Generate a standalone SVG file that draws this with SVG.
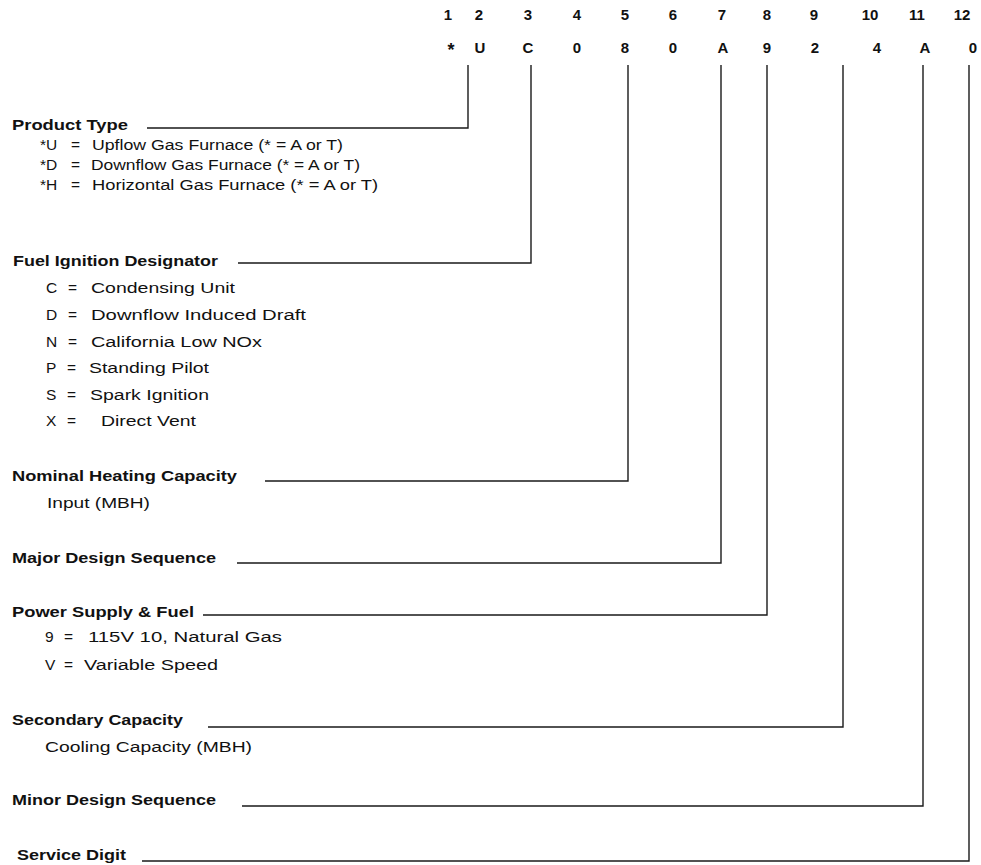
<svg xmlns="http://www.w3.org/2000/svg" width="981" height="865" viewBox="0 0 981 865">
<style>
text{font-family:"Liberation Sans",Arial,Helvetica,sans-serif;fill:#111}
.h{font-size:15px;font-weight:bold;text-anchor:middle}
.l{font-size:15.5px;font-weight:bold}
.t{font-size:15.5px}
.conn{fill:none;stroke:#1a1a1a;stroke-width:1.4}
</style>
<rect width="981" height="865" fill="#fff"/>
<g id="header">
<text class="h" x="448" y="20">1</text>
<text class="h" x="479" y="20">2</text>
<text class="h" x="528" y="20">3</text>
<text class="h" x="577" y="20">4</text>
<text class="h" x="625" y="20">5</text>
<text class="h" x="673" y="20">6</text>
<text class="h" x="722" y="20">7</text>
<text class="h" x="767" y="20">8</text>
<text class="h" x="814" y="20">9</text>
<text class="h" x="870" y="20">10</text>
<text class="h" x="917" y="20">11</text>
<text class="h" x="962" y="20">12</text>
<text class="h" x="451" y="56" style="font-size:18px">*</text>
<text class="h" x="480" y="53">U</text>
<text class="h" x="528" y="53">C</text>
<text class="h" x="577" y="53">0</text>
<text class="h" x="625" y="53">8</text>
<text class="h" x="673" y="53">0</text>
<text class="h" x="723" y="53">A</text>
<text class="h" x="767" y="53">9</text>
<text class="h" x="815" y="53">2</text>
<text class="h" x="877" y="53">4</text>
<text class="h" x="925" y="53">A</text>
<text class="h" x="973" y="53">0</text>
</g>
<g id="connectors">
<polyline class="conn" points="147,128 468,128 468,65"/>
<polyline class="conn" points="238,263 531,263 531,65"/>
<polyline class="conn" points="265,481 628,481 628,65"/>
<polyline class="conn" points="237,563 721,563 721,65"/>
<polyline class="conn" points="203,615 767,615 767,65"/>
<polyline class="conn" points="208,727 843,727 843,65"/>
<polyline class="conn" points="242,806 923,806 923,65"/>
<polyline class="conn" points="142,861 969,861 969,65"/>
</g>
<g id="product-type">
<text class="l" x="12" y="130" textLength="116" lengthAdjust="spacingAndGlyphs">Product Type</text>
<text class="t" x="40" y="150">*U</text><text class="t" x="71" y="150">=</text>
<text class="t" x="92" y="150" textLength="251" lengthAdjust="spacingAndGlyphs">Upflow Gas Furnace (* = A or T)</text>
<text class="t" x="40" y="170">*D</text><text class="t" x="71" y="170">=</text>
<text class="t" x="91" y="170" textLength="269" lengthAdjust="spacingAndGlyphs">Downflow Gas Furnace (* = A or T)</text>
<text class="t" x="40" y="190">*H</text><text class="t" x="71" y="190">=</text>
<text class="t" x="92" y="190" textLength="286" lengthAdjust="spacingAndGlyphs">Horizontal Gas Furnace (* = A or T)</text>
</g>
<g id="fuel-ignition">
<text class="l" x="13" y="266" textLength="205" lengthAdjust="spacingAndGlyphs">Fuel Ignition Designator</text>
<text class="t" x="46" y="293">C</text><text class="t" x="68" y="293">=</text>
<text class="t" x="91" y="293" textLength="144" lengthAdjust="spacingAndGlyphs">Condensing Unit</text>
<text class="t" x="46" y="320">D</text><text class="t" x="68" y="320">=</text>
<text class="t" x="91" y="320" textLength="215" lengthAdjust="spacingAndGlyphs">Downflow Induced Draft</text>
<text class="t" x="46" y="347">N</text><text class="t" x="68" y="347">=</text>
<text class="t" x="91" y="347" textLength="171" lengthAdjust="spacingAndGlyphs">California Low NOx</text>
<text class="t" x="46" y="373">P</text><text class="t" x="67" y="373">=</text>
<text class="t" x="89" y="373" textLength="120" lengthAdjust="spacingAndGlyphs">Standing Pilot</text>
<text class="t" x="46" y="400">S</text><text class="t" x="67" y="400">=</text>
<text class="t" x="90" y="400" textLength="119" lengthAdjust="spacingAndGlyphs">Spark Ignition</text>
<text class="t" x="46" y="426">X</text><text class="t" x="67" y="426">=</text>
<text class="t" x="101" y="426" textLength="95" lengthAdjust="spacingAndGlyphs">Direct Vent</text>
</g>
<g id="nominal-heating">
<text class="l" x="12" y="481" textLength="225" lengthAdjust="spacingAndGlyphs">Nominal Heating Capacity</text>
<text class="t" x="47" y="508" textLength="103" lengthAdjust="spacingAndGlyphs">Input (MBH)</text>
</g>
<g id="major-design">
<text class="l" x="12" y="563" textLength="204" lengthAdjust="spacingAndGlyphs">Major Design Sequence</text>
</g>
<g id="power-supply">
<text class="l" x="12" y="617" textLength="182" lengthAdjust="spacingAndGlyphs">Power Supply &amp; Fuel</text>
<text class="t" x="45" y="642">9</text><text class="t" x="64" y="642">=</text>
<text class="t" x="88" y="642" textLength="194" lengthAdjust="spacingAndGlyphs">115V 10, Natural Gas</text>
<text class="t" x="45" y="670">V</text><text class="t" x="64" y="670">=</text>
<text class="t" x="84" y="670" textLength="134" lengthAdjust="spacingAndGlyphs">Variable Speed</text>
</g>
<g id="secondary-capacity">
<text class="l" x="12" y="725" textLength="171" lengthAdjust="spacingAndGlyphs">Secondary Capacity</text>
<text class="t" x="45" y="752" textLength="207" lengthAdjust="spacingAndGlyphs">Cooling Capacity (MBH)</text>
</g>
<g id="minor-design">
<text class="l" x="12" y="805" textLength="204" lengthAdjust="spacingAndGlyphs">Minor Design Sequence</text>
</g>
<g id="service-digit">
<text class="l" x="17" y="860" textLength="109" lengthAdjust="spacingAndGlyphs">Service Digit</text>
</g>
</svg>
